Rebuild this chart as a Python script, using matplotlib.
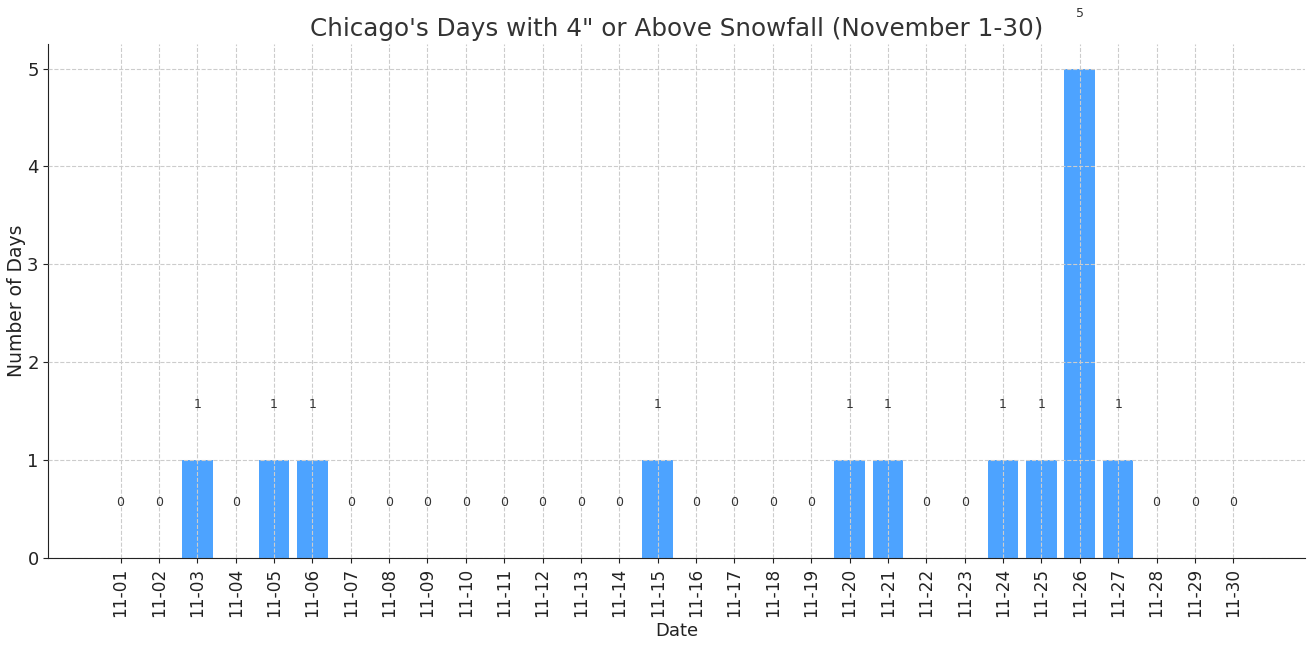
import matplotlib.pyplot as plt
import numpy as np

dates = ['11-%02d' % d for d in range(1, 31)]
counts = [0, 0, 1, 0, 1, 1, 0, 0, 0, 0, 0, 0, 0, 0, 1,
          0, 0, 0, 0, 1, 1, 0, 0, 1, 1, 5, 1, 0, 0, 0]

plt.rcParams['text.color'] = '#333333'
plt.rcParams['axes.labelcolor'] = '#222222'
plt.rcParams['xtick.color'] = '#222222'
plt.rcParams['ytick.color'] = '#222222'
plt.rcParams['axes.edgecolor'] = '#222222'

fig, ax = plt.subplots(figsize=(13.08, 6.48), dpi=100)
x = np.arange(len(dates))
ax.bar(x, counts, width=0.8, color='#4da3ff', zorder=1)
ax.grid(True, linestyle='--', color='#cccccc', linewidth=0.8, zorder=2)
ax.set_axisbelow(False)

for xi, v in zip(x, counts):
    ax.text(xi, v + 0.5, str(v), ha='center', va='bottom', fontsize=9, color='#333333')

ax.set_xticks(x)
ax.set_xticklabels(dates, rotation=90, fontsize=12.2)
ax.tick_params(axis='y', labelsize=13)
ax.set_xlim(-1.88, 30.88)
ax.set_ylim(0, 5.25)
ax.set_xlabel('Date', fontsize=13)
ax.set_ylabel('Number of Days', fontsize=13.5, labelpad=1)
ax.set_title('Chicago\'s Days with 4" or Above Snowfall (November 1-30)', fontsize=17.75)
for s in ['top', 'right']:
    ax.spines[s].set_visible(False)

plt.subplots_adjust(left=0.037, right=0.998, top=0.932, bottom=0.139)
plt.savefig('out.png')
